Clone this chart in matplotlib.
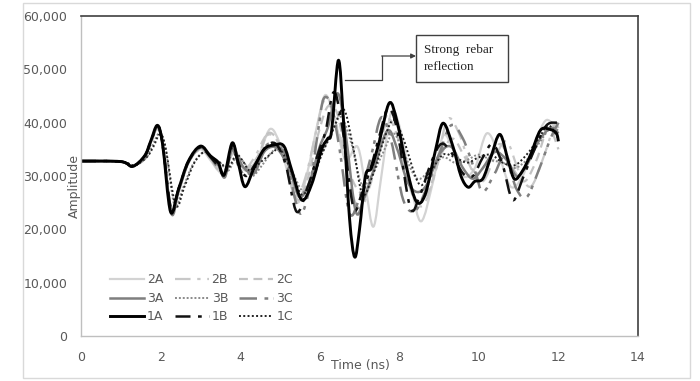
import numpy as np
import matplotlib
matplotlib.use("Agg")
import matplotlib.pyplot as plt
from matplotlib.path import Path
from matplotlib.patches import PathPatch, Rectangle
from matplotlib.lines import Line2D
from matplotlib.ticker import FuncFormatter

# ---------------- data (time in ns, amplitude) ----------------
t_2A = [0, 1.0, 1.3, 1.6, 1.75, 1.92, 2.05, 2.27, 2.45, 2.7, 3.0, 3.25, 3.45, 3.62, 3.8, 3.95, 4.15, 4.45, 4.75, 5.0, 5.2, 5.45, 5.7, 5.95, 6.15, 6.4, 6.65, 6.95, 7.15, 7.35, 7.55, 7.8, 8.05, 8.3, 8.55, 8.85, 9.1, 9.35, 9.6, 9.9, 10.2, 10.5, 10.8, 11.1, 11.4, 11.7, 12.0]
a_2A = [32800, 32700, 31900, 33700, 36200, 39000, 36000, 23500, 27500, 32500, 35000, 33000, 31000, 30500, 34500, 33000, 31000, 33500, 38800, 36000, 30500, 25000, 31000, 40000, 45200, 40000, 33000, 35500, 28000, 20500, 30000, 42000, 38000, 28000, 21500, 29000, 37500, 35000, 30000, 31500, 38000, 34000, 28000, 30000, 36000, 40500, 38000]

t_2B = [0, 1.0, 1.3, 1.6, 1.75, 1.92, 2.05, 2.27, 2.45, 2.7, 3.0, 3.25, 3.45, 3.62, 3.8, 3.95, 4.15, 4.4, 4.65, 4.9, 5.15, 5.4, 5.65, 5.9, 6.1, 6.3, 6.55, 6.8, 7.05, 7.3, 7.6, 7.85, 8.1, 8.35, 8.6, 8.9, 9.2, 9.5, 9.8, 10.1, 10.4, 10.7, 11.0, 11.3, 11.6, 11.9, 12.0]
a_2B = [32800, 32700, 31800, 33600, 36000, 38800, 35800, 23800, 27500, 32500, 35000, 33500, 31500, 31000, 34000, 32500, 31500, 34000, 37500, 37000, 32000, 26000, 30000, 38000, 44000, 42500, 36000, 27000, 24000, 30000, 40000, 41500, 35000, 26500, 24500, 30500, 40500, 38000, 31500, 29000, 33500, 36500, 31000, 28000, 33000, 39500, 39000]

t_2C = [0, 1.0, 1.3, 1.6, 1.75, 1.92, 2.05, 2.27, 2.45, 2.7, 3.0, 3.25, 3.45, 3.62, 3.8, 3.95, 4.15, 4.45, 4.7, 4.95, 5.2, 5.45, 5.7, 5.95, 6.2, 6.45, 6.7, 6.95, 7.2, 7.45, 7.7, 7.95, 8.2, 8.45, 8.75, 9.05, 9.35, 9.65, 9.95, 10.25, 10.55, 10.85, 11.15, 11.45, 11.75, 12.0]
a_2C = [32800, 32700, 31900, 33700, 36100, 38900, 35900, 23700, 27500, 32600, 35200, 33200, 31200, 30800, 34200, 32800, 31200, 33800, 38000, 36500, 31500, 25500, 29500, 37500, 43000, 41500, 32000, 27500, 27000, 33500, 40500, 37500, 29500, 25000, 27500, 34000, 37000, 33500, 30500, 33000, 36000, 31500, 29000, 33000, 39000, 35000]

t_3A = [0, 1.0, 1.3, 1.6, 1.75, 1.92, 2.05, 2.27, 2.45, 2.7, 3.0, 3.25, 3.45, 3.62, 3.8, 3.95, 4.1, 4.35, 4.6, 4.85, 5.1, 5.3, 5.5, 5.75, 6.0, 6.2, 6.45, 6.65, 6.9, 7.1, 7.35, 7.7, 7.95, 8.2, 8.45, 8.7, 9.0, 9.3, 9.6, 9.85, 10.1, 10.4, 10.7, 10.95, 11.2, 11.5, 11.8, 12.0]
a_3A = [32800, 32700, 31900, 33700, 36300, 39200, 36200, 23000, 27000, 32500, 35300, 33600, 32000, 29800, 35800, 33500, 31500, 30500, 34500, 35500, 34500, 30000, 26000, 29000, 35500, 39000, 45500, 38000, 23500, 25500, 31000, 38500, 35000, 29000, 27000, 28500, 34000, 35500, 31500, 29500, 31500, 34500, 33000, 30000, 32000, 36500, 39000, 38000]

t_3B = [0, 1.0, 1.35, 1.65, 1.8, 1.97, 2.12, 2.35, 2.55, 2.8, 3.08, 3.3, 3.5, 3.7, 3.9, 4.1, 4.3, 4.55, 4.8, 5.05, 5.3, 5.6, 5.85, 6.1, 6.35, 6.55, 6.8, 7.05, 7.3, 7.6, 7.85, 8.1, 8.45, 8.8, 9.1, 9.4, 9.7, 10.0, 10.3, 10.6, 10.9, 11.2, 11.5, 11.8, 12.0]
a_3B = [32800, 32700, 32000, 33500, 35800, 38000, 35500, 24500, 27500, 32000, 34500, 33500, 32500, 31000, 33500, 32500, 30000, 32000, 34500, 35500, 31000, 27000, 30000, 35000, 39000, 41000, 36000, 28500, 30000, 34500, 38000, 34500, 29500, 31500, 33500, 32500, 33000, 34000, 33000, 32500, 31500, 33000, 36000, 39000, 38500]

t_3C = [0, 1.0, 1.3, 1.6, 1.75, 1.92, 2.05, 2.27, 2.45, 2.7, 3.0, 3.25, 3.45, 3.62, 3.8, 3.95, 4.15, 4.4, 4.7, 4.95, 5.2, 5.5, 5.75, 5.95, 6.1, 6.3, 6.5, 6.75, 7.0, 7.3, 7.55, 7.8, 8.1, 8.4, 8.7, 9.0, 9.3, 9.6, 9.9, 10.1, 10.4, 10.65, 10.95, 11.2, 11.5, 11.8, 12.0]
a_3C = [32800, 32700, 31800, 33800, 36400, 39300, 36000, 23500, 27500, 32800, 35400, 33500, 31500, 30500, 35000, 32000, 30000, 32500, 36000, 35000, 31500, 23000, 28000, 38000, 44500, 43000, 35000, 23000, 26000, 34000, 41000, 36500, 25500, 23500, 28000, 34000, 39500, 37000, 31000, 27000, 30500, 33500, 27500, 26000, 31000, 37000, 40000]

t_1A = [0, 1.0, 1.3, 1.6, 1.75, 1.92, 2.05, 2.25, 2.45, 2.7, 3.0, 3.25, 3.45, 3.6, 3.8, 3.95, 4.12, 4.35, 4.6, 4.85, 5.1, 5.3, 5.55, 5.8, 6.05, 6.2, 6.3, 6.47, 6.6, 6.75, 6.88, 7.0, 7.15, 7.3, 7.5, 7.75, 7.95, 8.2, 8.43, 8.65, 8.9, 9.1, 9.35, 9.55, 9.73, 9.9, 10.1, 10.3, 10.53, 10.75, 10.9, 11.1, 11.3, 11.55, 11.8, 11.95, 12.0]
a_1A = [32800, 32700, 31800, 33800, 36500, 39500, 36000, 23300, 27500, 32800, 35600, 33800, 32500, 30200, 36200, 32500, 28000, 31500, 35000, 35800, 35600, 31000, 25500, 28500, 35000, 37000, 38500, 51700, 40000, 22000, 14800, 20000, 30000, 31500, 36500, 43700, 40000, 31000, 25200, 26500, 34500, 39900, 35500, 30000, 27900, 29000, 29500, 33500, 37800, 32500, 29400, 31000, 34000, 38600, 38700, 38000, 36500]

t_1B = [0, 1.0, 1.3, 1.6, 1.75, 1.92, 2.05, 2.27, 2.45, 2.7, 3.0, 3.25, 3.45, 3.62, 3.8, 3.95, 4.15, 4.4, 4.65, 4.9, 5.15, 5.42, 5.7, 5.95, 6.15, 6.35, 6.55, 6.84, 7.05, 7.3, 7.5, 7.72, 7.95, 8.27, 8.5, 8.8, 9.05, 9.3, 9.6, 9.85, 10.1, 10.35, 10.6, 10.85, 11.1, 11.4, 11.7, 12.0]
a_1B = [32800, 32700, 31800, 33700, 36300, 39300, 36000, 23600, 27500, 32700, 35400, 33600, 31800, 30300, 35500, 32500, 30000, 32500, 35500, 36000, 32000, 23300, 28000, 34000, 38500, 45700, 40000, 24300, 26500, 32000, 37500, 42700, 38500, 24200, 26000, 32500, 36000, 34500, 30500, 30000, 33500, 36000, 32000, 25500, 29500, 35000, 39500, 40000]

t_1C = [0, 1.0, 1.35, 1.65, 1.82, 1.98, 2.12, 2.38, 2.6, 2.85, 3.1, 3.3, 3.5, 3.7, 3.9, 4.05, 4.25, 4.5, 4.75, 5.0, 5.25, 5.55, 5.8, 6.05, 6.3, 6.6, 6.85, 7.08, 7.35, 7.6, 7.85, 8.1, 8.5, 8.8, 9.1, 9.4, 9.7, 10.0, 10.3, 10.6, 10.9, 11.2, 11.5, 11.75, 12.0]
a_1C = [32800, 32700, 32000, 33500, 35500, 37800, 35500, 24500, 28000, 32500, 34500, 33500, 32500, 31500, 34000, 33000, 31000, 32500, 34000, 35000, 31500, 26500, 29500, 34000, 38000, 42500, 35000, 26500, 30500, 36500, 40500, 37000, 28500, 31000, 34000, 33500, 32500, 33500, 34000, 32500, 32000, 34000, 37000, 39500, 37000]

legend_labels = ["2A", "2B", "2C", "3A", "3B", "3C", "1A", "1B", "1C"]
x_ticks = [0, 2, 4, 6, 8, 10, 12, 14]
y_ticks = [0, 10000, 20000, 30000, 40000, 50000, 60000]
annotation_text = "Strong  rebar\nreflection"

series = {
    "2A": (t_2A, a_2A), "2B": (t_2B, a_2B), "2C": (t_2C, a_2C),
    "3A": (t_3A, a_3A), "3B": (t_3B, a_3B), "3C": (t_3C, a_3C),
    "1A": (t_1A, a_1A), "1B": (t_1B, a_1B), "1C": (t_1C, a_1C),
}

styles = {
    "2A": dict(color="#d3d3d3", lw=1.6, ls="-"),
    "2B": dict(color="#c8c8c8", lw=1.6, ls=(0, (7, 3, 1.5, 3))),
    "2C": dict(color="#c2c2c2", lw=1.6, ls=(0, (4, 2.5))),
    "3A": dict(color="#7f7f7f", lw=1.8, ls="-"),
    "3B": dict(color="#8a8a8a", lw=1.4, ls=(0, (1, 1))),
    "3C": dict(color="#7f7f7f", lw=1.8, ls=(0, (7, 3, 1.5, 2, 1.5, 3))),
    "1A": dict(color="#000000", lw=2.1, ls="-"),
    "1B": dict(color="#111111", lw=1.8, ls=(0, (6, 3, 1.5, 3))),
    "1C": dict(color="#222222", lw=1.4, ls=(0, (1, 1.2))),
}


def smooth_path(x, y):
    """Excel-like smoothed line: cubic Bezier segments through the data points."""
    x = np.asarray(x, float)
    y = np.asarray(y, float)
    n = len(x)
    verts = [(x[0], y[0])]
    codes = [Path.MOVETO]
    for i in range(n - 1):
        i0 = max(i - 1, 0)
        i3 = min(i + 2, n - 1)
        c1 = (x[i] + (x[i + 1] - x[i0]) / 6.0, y[i] + (y[i + 1] - y[i0]) / 6.0)
        c2 = (x[i + 1] - (x[i3] - x[i]) / 6.0, y[i + 1] - (y[i3] - y[i]) / 6.0)
        verts += [c1, c2, (x[i + 1], y[i + 1])]
        codes += [Path.CURVE4] * 3
    return Path(verts, codes)


plt.rcParams["font.family"] = ["DejaVu Sans"]
fig = plt.figure(figsize=(7.0, 3.81), dpi=100)
ax = fig.add_axes([81 / 700, 45 / 381, 557 / 700, 320 / 381])

# outer chart border
fig.patches.append(Rectangle((23 / 700, 3 / 381), 667 / 700, 375 / 381,
                             transform=fig.transFigure, fill=False,
                             edgecolor="#d9d9d9", lw=1.0))

draw_order = ["2A", "2B", "2C", "3C", "3B", "3A", "1C", "1B", "1A"]
for name in draw_order:
    tx, ay = series[name]
    st = styles[name]
    patch = PathPatch(smooth_path(tx, ay), fill=False, edgecolor=st["color"],
                      lw=st["lw"], linestyle=st["ls"], capstyle="butt",
                      joinstyle="round", transform=ax.transData)
    ax.add_patch(patch)

ax.set_xlim(0, 14)
ax.set_ylim(0, 60000)
ax.set_xticks(x_ticks)
ax.set_yticks(y_ticks)
ax.yaxis.set_major_formatter(FuncFormatter(lambda v, p: f"{int(v):,}"))
ax.tick_params(length=0, labelsize=9, labelcolor="#595959")
ax.tick_params(axis="y", pad=10)
ax.tick_params(axis="x", pad=11)

for s in ["left", "bottom"]:
    ax.spines[s].set_color("#bfbfbf")
    ax.spines[s].set_linewidth(1.0)
for s in ["top", "right"]:
    ax.spines[s].set_color("#404040")
    ax.spines[s].set_linewidth(1.2)

fig.text(74 / 700, 1 - 186 / 381, "Amplitude", rotation=90, ha="center",
         va="center", fontsize=9, color="#595959")
fig.text(360 / 700, 1 - 366 / 381, "Time (ns)", ha="center", va="center",
         fontsize=9, color="#595959")

# legend (row-wise order as in the reference -> column-major handles)
handles = {n: Line2D([], [], color=styles[n]["color"], lw=styles[n]["lw"],
                     linestyle=styles[n]["ls"]) for n in legend_labels}
order = ["2A", "3A", "1A", "2B", "3B", "1B", "2C", "3C", "1C"]
leg = ax.legend([handles[n] for n in order], order, ncol=3, frameon=False,
                loc="upper left", bbox_to_anchor=((104 - 81) / 557, (336 - 267) / 320),
                borderpad=0, handlelength=2.7, handletextpad=0.25,
                columnspacing=0.9, labelspacing=0.45, fontsize=9)
for txt in leg.get_texts():
    txt.set_color("#595959")

# annotation box with elbow arrow
bx0, bx1 = (416 - 81) / 557, (508 - 81) / 557
by0, by1 = (336 - 82) / 320, (336 - 35) / 320
ax.add_patch(Rectangle((bx0, by0), bx1 - bx0, by1 - by0, transform=ax.transAxes,
                       fill=True, facecolor="white", edgecolor="#404040", lw=1.0))
ax.text((424 - 81) / 557, (by0 + by1) / 2, annotation_text, transform=ax.transAxes,
        ha="left", va="center", fontsize=9.5, family="Liberation Serif",
        color="#262626", linespacing=1.6)
xs = [(345 - 81) / 557, (381.7 - 81) / 557, (381.7 - 81) / 557]
ys = [(336 - 80) / 320, (336 - 80) / 320, (336 - 56) / 320]
ax.plot(xs, ys, transform=ax.transAxes, color="#404040", lw=0.9)
ax.annotate("", xy=(bx0, ys[2]), xytext=(xs[2], ys[2]),
            xycoords="axes fraction", textcoords="axes fraction",
            arrowprops=dict(arrowstyle="-|>", color="#404040", lw=0.9,
                            mutation_scale=7, shrinkA=0, shrinkB=0))

fig.savefig("out.png", dpi=100)
